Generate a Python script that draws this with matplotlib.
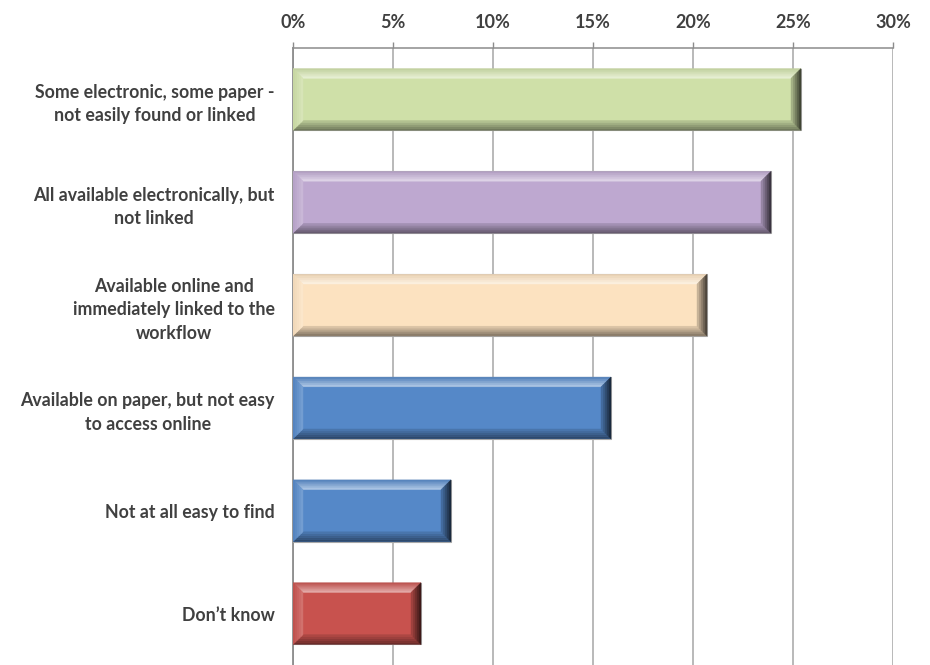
import numpy as np
import matplotlib.pyplot as plt
from matplotlib.patches import Polygon
from matplotlib.colors import to_rgb
from matplotlib.ticker import FuncFormatter

# survey answers, top to bottom
labels = ["Some electronic, some paper -\nnot easily found or linked",
          "All available electronically, but\nnot linked",
          "Available online and\nimmediately linked to the\nworkflow",
          "Available on paper, but not easy\nto access online",
          "Not at all easy to find",
          "Don\u2019t know"]
values = [25.4, 23.9, 20.7, 15.9, 7.9, 6.4]
colors = ["#CFE0A8", "#BEA8D0", "#FCE2C0", "#5588C8", "#5588C8", "#C8524E"]
ticks = [0, 5, 10, 15, 20, 25, 30]

plt.rcParams['font.family'] = ['Lato', 'DejaVu Sans']


def mix(c, other, t):
    c = np.array(to_rgb(c))
    return tuple(c * (1 - t) + np.array(other) * t)


def bevel(ax, pts_outer, pts_inner, c0, c1, n=5):
    # blend from outer edge colour c0 to inner colour c1 in n strips
    po, pi = np.array(pts_outer), np.array(pts_inner)
    for k in range(n):
        a, b = k / n, (k + 1) / n
        e0, e1 = po + (pi - po) * a, po + (pi - po) * b
        poly = [tuple(e0[0]), tuple(e0[1]), tuple(e1[1]), tuple(e1[0])]
        col = tuple(np.array(c0) * (1 - (a + b) / 2) + np.array(c1) * (a + b) / 2)
        ax.add_patch(Polygon(poly, closed=True, facecolor=col, edgecolor=col,
                             lw=0.3, zorder=4))


fig = plt.figure(figsize=(9.3, 6.65), dpi=100)
ax = fig.add_axes([293 / 930, 0.0, 600 / 930, 1 - 48 / 665])

y = np.arange(len(values))
h = 0.6
ax.barh(y, values, height=h, color=colors, edgecolor="#A8A8A8", linewidth=0.8, zorder=3)

# bevel edges on each bar
dx = 0.5    # in % units (about 10 px)
dy = 0.095  # in category units
for yc, v, c in zip(y, values, colors):
    yt, yb = yc - h / 2, yc + h / 2
    x0, x1 = 0, v
    ix0, ix1, iyt, iyb = x0 + dx, x1 - dx, yt + dy, yb - dy
    # top edge: light highlight fading into the face
    bevel(ax, [(x0, yt), (x1, yt)], [(ix0, iyt), (ix1, iyt)],
          mix(c, (0, 0, 0), 0.08), mix(c, (1, 1, 1), 0.55))
    # bottom edge: shade
    bevel(ax, [(x0, yb), (x1, yb)], [(ix0, iyb), (ix1, iyb)],
          mix(c, (0, 0, 0), 0.5), mix(c, (0, 0, 0), 0.1))
    # left edge
    bevel(ax, [(x0, yt), (x0, yb)], [(ix0, iyt), (ix0, iyb)],
          mix(c, (0, 0, 0), 0.05), mix(c, (1, 1, 1), 0.2))
    # right edge: darkest
    bevel(ax, [(x1, yt), (x1, yb)], [(ix1, iyt), (ix1, iyb)],
          mix(c, (0, 0, 0), 0.75), mix(c, (0, 0, 0), 0.15))

ax.set_xlim(0, 30)
ax.set_ylim(len(values) - 0.5, -0.5)
ax.set_xticks(ticks)
ax.xaxis.set_major_formatter(FuncFormatter(lambda v, p: f"{v:.0f}%"))
ax.xaxis.tick_top()
ax.tick_params(axis="x", direction="out", length=4.5, width=1, color="#8C8C8C",
               pad=7.5, labelsize=13, labelcolor="#404040")
ax.set_yticks(y)
ax.set_yticklabels(labels, multialignment="center", linespacing=1.45)
ax.tick_params(axis="y", length=0, pad=13, labelsize=12.8, labelcolor="#404040")
for t in ax.get_xticklabels() + ax.get_yticklabels():
    t.set_fontweight("bold")

ax.grid(axis="x", color="#A6A6A6", lw=1.1, zorder=0)
for s in ["right", "bottom"]:
    ax.spines[s].set_visible(False)
ax.spines["top"].set_color("#8C8C8C")
ax.spines["left"].set_color("#8C8C8C")
ax.spines["top"].set_linewidth(1.1)
ax.spines["left"].set_linewidth(1.3)

fig.savefig("out.png", dpi=100)
